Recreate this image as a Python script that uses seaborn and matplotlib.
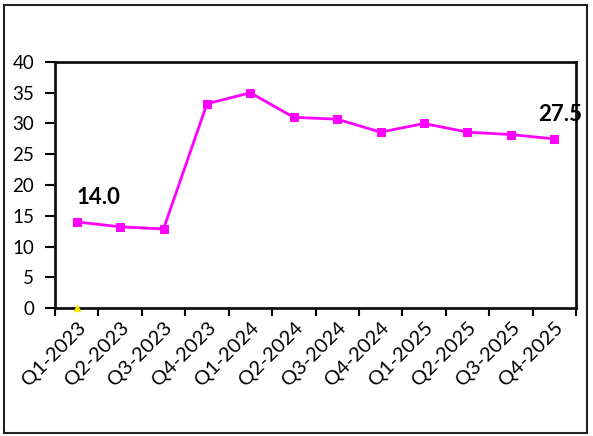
import matplotlib
matplotlib.use("Agg")
import matplotlib.pyplot as plt
import matplotlib.transforms as mtransforms
import seaborn as sns
import pandas as pd
from matplotlib.patches import Rectangle

quarters = ["Q1-2023", "Q2-2023", "Q3-2023", "Q4-2023", "Q1-2024", "Q2-2024",
            "Q3-2024", "Q4-2024", "Q1-2025", "Q2-2025", "Q3-2025", "Q4-2025"]
values = [14.0, 13.2, 12.85, 33.2, 35.0, 31.0, 30.7, 28.6, 30.0, 28.6, 28.2, 27.5]
yellow_x = ["Q1-2023"]
yellow_y = [0.0]

sns.set_theme(style="white")
plt.rcParams['font.family'] = ['Lato', 'DejaVu Sans']

df = pd.DataFrame({"q": quarters, "v": values, "i": range(len(quarters))})

fig = plt.figure(figsize=(5.93, 4.36), dpi=100)
ax = fig.add_axes([55/593, 1-308/436, (576-55)/593, (308-62)/436])

sns.lineplot(data=df, x="i", y="v", ax=ax, color="#FF00FF", linewidth=2,
             marker="s", markersize=5.5, markeredgecolor="#FF00FF")
ax.plot([quarters.index(q) for q in yellow_x], yellow_y, marker="^", color="#FFE600",
        markersize=4, linestyle="none", clip_on=False, zorder=5)

ax.set_xlim(-0.5, len(quarters) - 0.5)
ax.set_ylim(0, 40)
ax.set_yticks(range(0, 41, 5))
ax.set_yticklabels([str(v) for v in range(0, 41, 5)], fontsize=13.5, color="black")
ax.set_xticks([i - 0.5 for i in range(len(quarters) + 1)])
ax.set_xticklabels([])
ax.set_xticks(range(len(quarters)), minor=True)
ax.set_xticklabels(quarters, minor=True, rotation=45, ha="right", va="top",
                   rotation_mode="anchor", fontsize=14.5, color="black")
offset = mtransforms.ScaledTranslation(8/100, -14/100, fig.dpi_scale_trans)
for lbl in ax.get_xticklabels(minor=True):
    lbl.set_transform(lbl.get_transform() + offset)
ax.tick_params(axis="x", which="major", direction="out", length=6, width=1.5, color="black", bottom=True)
ax.tick_params(axis="x", which="minor", length=0, pad=8)
ax.tick_params(axis="y", direction="out", length=7, width=1.5, color="black", left=True, pad=8)
ax.set_xlabel("")
ax.set_ylabel("")
for s in ax.spines.values():
    s.set_visible(True)
    s.set_color("#111111")
    s.set_linewidth(2)

ax.annotate(f"{values[0]:.1f}", (0, values[0]), xytext=(0, 10), textcoords="offset points",
            ha="left", va="bottom", fontsize=16, fontweight="bold", color="black")
ax.annotate(f"{values[-1]:.1f}", (len(values) - 1, values[-1]), xytext=(4, 10), textcoords="offset points",
            ha="center", va="bottom", fontsize=16, fontweight="bold", color="black",
            annotation_clip=False)

fig.patches.append(Rectangle((4/593, 3/436), 583/593, 428/436, transform=fig.transFigure,
                             fill=False, edgecolor="#222222", linewidth=1.5))

fig.savefig("out.png", dpi=100)
